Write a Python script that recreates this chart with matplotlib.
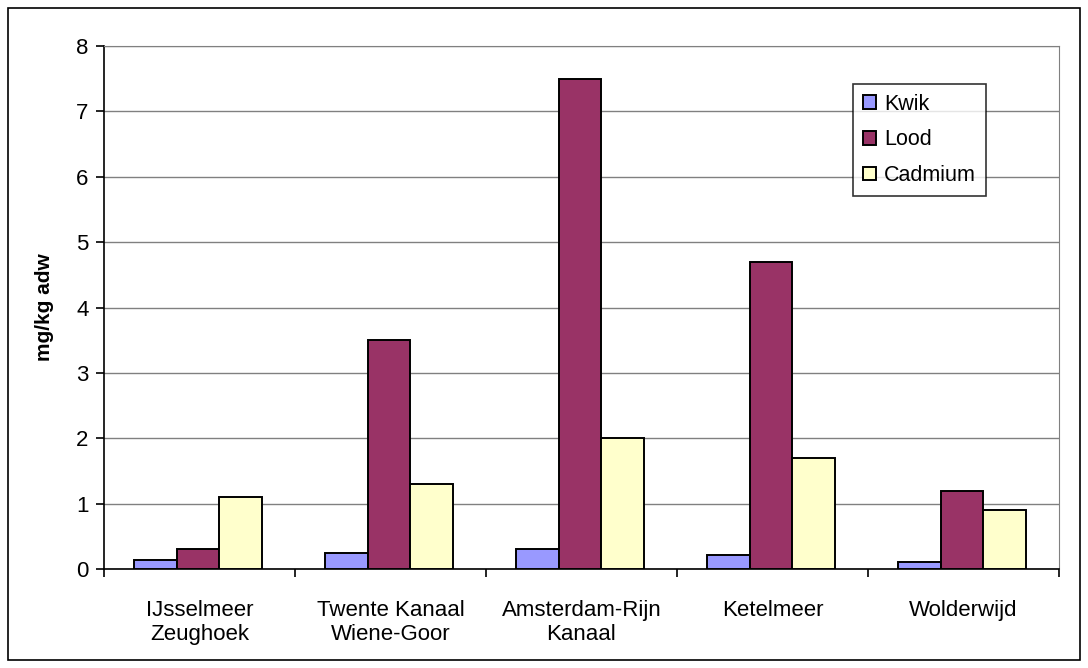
import matplotlib
matplotlib.use("Agg")
import matplotlib.pyplot as plt
import numpy as np
from matplotlib.patches import Rectangle

plt.rcParams['font.family'] = ['Liberation Sans', 'DejaVu Sans']

categories = ["IJsselmeer\nZeughoek", "Twente Kanaal\nWiene-Goor", "Amsterdam-Rijn\nKanaal", "Ketelmeer", "Wolderwijd"]
kwik = [0.14, 0.24, 0.30, 0.21, 0.11]
lood = [0.30, 3.50, 7.50, 4.70, 1.20]
cadmium = [1.10, 1.30, 2.00, 1.70, 0.90]
series_names = ["Kwik", "Lood", "Cadmium"]
colors = ["#9999FF", "#993366", "#FFFFCC"]

fig = plt.figure(figsize=(10.88, 6.68), dpi=100)
fig.patches.append(Rectangle((8/1088, 8/668), 1072/1088, 652/668, transform=fig.transFigure,
                             fill=False, edgecolor='black', linewidth=1.2))
ax = fig.add_axes([104/1088, (668-569)/668, (1059-104)/1088, (569-46)/668])

x = np.arange(len(categories))
w = 0.224
for i, (vals, name, c) in enumerate(zip([kwik, lood, cadmium], series_names, colors)):
    ax.bar(x + (i - 1) * w - 0.008, vals, width=w, color=c, edgecolor='black', linewidth=1.4,
           label=name, zorder=3)

ax.set_xlim(-0.5, len(categories) - 0.5)
ax.set_ylim(0, 8)
ax.set_yticks(range(0, 9))
ax.yaxis.grid(True, color='#808080', linewidth=1.0, zorder=0)
ax.set_axisbelow(True)

ax.set_xticks(x)
ax.set_xticklabels(categories, fontsize=16, linespacing=1.2)
ax.set_xticks(np.arange(-0.5, len(categories)), minor=True)
ax.tick_params(axis='x', which='major', length=0, pad=22)
ax.tick_params(axis='x', which='minor', length=6, direction='out', width=1.2)
ax.tick_params(axis='y', length=6, direction='out', labelsize=16, width=1.2, pad=5)

for s in ['top', 'right']:
    ax.spines[s].set_color('#808080')
for s in ['left', 'bottom']:
    ax.spines[s].set_color('black')
    ax.spines[s].set_linewidth(1.2)

ax.set_ylabel("mg/kg adw", fontsize=15, fontweight='bold', labelpad=16)

leg = ax.legend(loc='upper left', bbox_to_anchor=((853-104)/955, (569-84)/523),
                fontsize=15.5, frameon=True, fancybox=False, edgecolor='black',
                handlelength=0.6, handleheight=0.6, handletextpad=0.4,
                labelspacing=0.68, borderpad=0.45, borderaxespad=0)
leg.get_frame().set_linewidth(1.2)

fig.savefig("out.png", dpi=100)
